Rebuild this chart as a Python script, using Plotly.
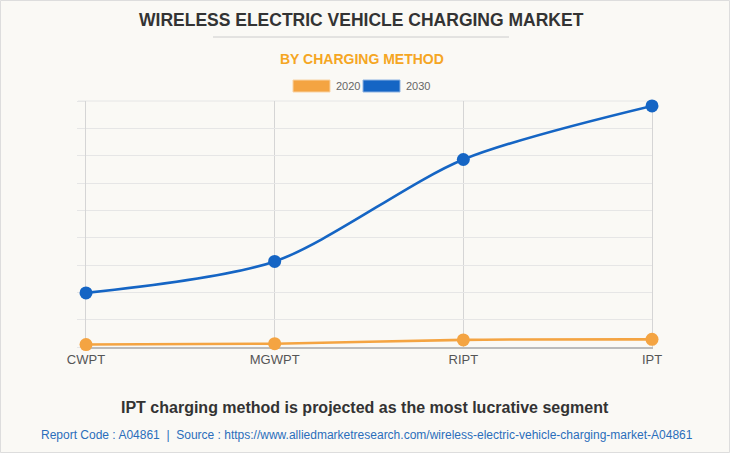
import plotly.graph_objects as go

categories = ["CWPT", "MGWPT", "RIPT", "IPT"]
values_2020 = [0.09, 0.12, 0.26, 0.28]
values_2030 = [1.98, 3.13, 6.86, 8.82]
series_names = ["2020", "2030"]
colors = ["#F4A442", "#1565C4"]

W, H = 730, 453
L, R, T, B = 86, 78, 101, 106
PW, PH = W - L - R, H - T - B

fig = go.Figure()
for name, vals, col in zip(series_names, [values_2020, values_2030], colors):
    fig.add_trace(go.Scatter(
        x=categories, y=vals, name=name, mode="lines+markers",
        line=dict(color=col, width=2.6, shape="spline", smoothing=0.8),
        marker=dict(color=col, size=13),
        showlegend=False, cliponaxis=False,
    ))

def px(x):
    return (x - L) / PW
def py(y):
    return 1 - (y - T) / PH

shapes = [
    dict(type="rect", xref="paper", yref="paper", x0=px(0.5), x1=px(W - 0.5), y0=py(H - 0.5), y1=py(0.5),
         line=dict(color="#DDDDDD", width=1), fillcolor="rgba(0,0,0,0)", layer="below"),
    dict(type="line", xref="paper", yref="paper", x0=px(213), x1=px(509), y0=py(37), y1=py(37),
         line=dict(color="#CCCCCC", width=1)),
    # top edge of the grid
    dict(type="line", xref="paper", yref="paper", x0=px(78), x1=1, y0=1, y1=1,
         line=dict(color="#E6E6E6", width=1), layer="below"),
    dict(type="rect", xref="paper", yref="paper", x0=px(293), x1=px(330), y0=py(92), y1=py(80),
         line=dict(color="#F9D3A3", width=1), fillcolor=colors[0]),
    dict(type="rect", xref="paper", yref="paper", x0=px(363), x1=px(400), y0=py(92), y1=py(80),
         line=dict(color="#8DB3E2", width=1), fillcolor=colors[1]),
]

annotations = [
    dict(text="WIRELESS ELECTRIC VEHICLE CHARGING MARKET", x=px(361), y=py(20), xref="paper", yref="paper",
         showarrow=False, xanchor="center", yanchor="middle",
         font=dict(family="Liberation Sans, Arial", size=17.5, color="#333333", weight="bold")),
    dict(text="BY CHARGING METHOD", x=px(362), y=py(59), xref="paper", yref="paper",
         showarrow=False, xanchor="center", yanchor="middle",
         font=dict(family="Liberation Sans, Arial", size=14, color="#F5A623", weight="bold")),
    dict(text="2020", x=px(334), y=py(86), xref="paper", yref="paper", showarrow=False,
         xanchor="left", yanchor="middle", font=dict(family="Liberation Sans, Arial", size=11, color="#666666")),
    dict(text="2030", x=px(404), y=py(86), xref="paper", yref="paper", showarrow=False,
         xanchor="left", yanchor="middle", font=dict(family="Liberation Sans, Arial", size=11, color="#666666")),
    dict(text="IPT charging method is projected as the most lucrative segment", x=px(365), y=py(407),
         xref="paper", yref="paper", showarrow=False, xanchor="center", yanchor="middle",
         font=dict(family="Liberation Sans, Arial", size=16, color="#333333", weight="bold")),
    dict(text="Report Code : A04861  |  Source : https://www.alliedmarketresearch.com/wireless-electric-vehicle-charging-market-A04861",
         x=px(367), y=py(435), xref="paper", yref="paper", showarrow=False, xanchor="center", yanchor="middle",
         font=dict(family="Liberation Sans Narrow, Liberation Sans, Arial", size=12, color="#2A6EBB")),
]

fig.update_layout(
    width=W, height=H,
    margin=dict(l=L, r=R, t=T, b=B),
    paper_bgcolor="#FAF9F5", plot_bgcolor="#FAF9F5",
    shapes=shapes, annotations=annotations,
    xaxis=dict(range=[0, 3], showgrid=True, gridcolor="#D5D5D5", gridwidth=1,
               showline=True, linecolor="#BBBBBB", linewidth=1.5, zeroline=False,
               tickfont=dict(family="Liberation Sans, Arial", size=13, color="#555555"),
               ticks="", fixedrange=True, layer="below traces"),
    yaxis=dict(range=[0, 9], dtick=1, showgrid=True, gridcolor="#E6E6E6", gridwidth=1,
               showticklabels=False, ticks="outside", ticklen=8, tickcolor="#E6E6E6",
               zeroline=False, showline=True, linecolor="#D5D5D5", linewidth=1, mirror=True,
               fixedrange=True, layer="below traces"),
    hovermode=False,
)

fig.write_html("out.html", config={"displayModeBar": False, "staticPlot": True},
               post_script="document.body.style.margin='0';")
